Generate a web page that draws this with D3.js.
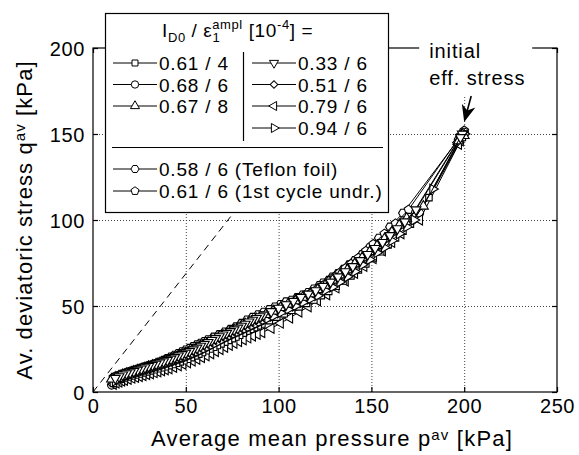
<!DOCTYPE html>
<html><head><meta charset="utf-8">
<script src="https://cdn.jsdelivr.net/npm/d3@7"></script>
<style>
body{margin:0;background:#fff}
svg text{font-family:"Liberation Sans",Arial,Helvetica,sans-serif;fill:#000}
</style>
</head><body>
<svg id="c" width="579" height="455"></svg>
<script>
// ---------- data ----------
const xTicks = [0, 50, 100, 150, 200, 250];
const yTicks = [0, 50, 100, 150, 200];
const xGrid = [50, 100, 150, 200];
const yGrid = [50, 100, 150];
const dashedRef = [[0, 0], [88, 121]];
const initialStress = [200, 150];

// I_D0 / eps_ampl = 0.61 / 4 (square)
const s061_4 = [[200,150],[199,148],[181,113],[171,97.5],[167,93.5],[163,89.5],[159,85.5],[155,81.5],[151,78],[147,74.5],[143,71],[139,67.5],[135,64.5],[131,61.5],[127,58.5],[123,56],[119,53.5],[115,51.5],[111,49.5],[107,47.5],[103,45.5],[99,43.5],[95,41.5],[91,39.5],[89,38.5],[87,37.5],[85,36.5],[83,35.5],[81,34.2],[79,33],[77,32],[75,31],[73,30],[71,29],[69,28],[67,27],[65,26],[63,25],[61,24],[59,23],[57,22],[55,21],[53,20],[51,19],[49,18.2],[47,17.5],[45,16.7],[43,16],[41,15.3],[39,14.7],[37,14.1],[35,13.5],[33,12.9],[31,12.3],[29,11.7],[27,11.1],[25,10.5],[23,9.9],[21,9.3],[19,8.7],[17,8.1],[15,7.4],[13,6.5],[11,5]];
// 0.68 / 6 (circle)
const s068_6 = [[200,151],[198,147],[176,104],[170,98],[166,94],[162,90],[158,86],[154,82],[150,78.5],[146,75],[142,71.5],[138,68],[134,65],[130,62],[126,59],[122,56.5],[118,54],[114,52],[110,50],[106,48],[102,46],[98,44],[94,42],[90,40],[86,38],[82,36],[78,33.5],[74,31.5],[70,29.5],[66,27.5],[62,25.3],[60,24.3],[58,23.3],[56,22.3],[54,21.4],[52,20.4],[50,19.5],[48,18.7],[46,17.9],[44,17.2],[42,16.5],[40,15.8],[38,15.1],[36,14.5],[34,13.9],[32,13.2],[30,12.6],[28,12],[26,11.4],[24,10.7],[22,10.1],[20,9.5],[18,8.8],[16,8.2],[14,7.4],[12,6],[10,4]];
// 0.67 / 8 (triangle up)
const s067_8 = [[200,149],[197,146],[178,108],[169,101],[165,97],[161,93],[157,89],[153,85],[149,81.5],[145,78],[141,74.5],[137,71],[133,68],[129,65],[125,62],[121,59.5],[117,57],[113,55],[109,53],[105,51],[101,49],[97,47],[93,45],[90,43.5],[88,42.5],[86,41.5],[84,40.5],[82,39.5],[80,38.4],[78,37.1],[76,36],[74,35],[72,34],[70,33],[68,32],[66,31],[64,29.9],[62,28.8],[60,27.8],[58,26.7],[56,25.6],[54,24.5],[52,23.5],[50,22.5],[48,21.6],[46,20.7],[44,19.9],[42,19.1],[40,18.3],[38,17.6],[36,16.9],[34,16.2],[32,15.5],[30,14.8],[28,14.1],[26,13.4],[24,12.7],[22,12],[20,11.3],[18,10.7],[16,10],[14,9.3],[12,8.5],[10,7.5]];
// 0.33 / 6 (triangle down)
const s033_6 = [[199,150],[198,148],[174,106],[168,99],[164,95],[160,91],[156,87],[152,83.5],[148,80],[144,76.5],[140,73],[136,70],[132,67],[128,64],[124,61.5],[120,59],[116,57],[112,55],[108,52.8],[104,50.8],[100,48.8],[96,46.8],[92,44.8],[90,43.8],[88,42.8],[86,41.8],[84,40.8],[82,39.5],[80,38.3],[78,37.2],[76,36.2],[74,35.2],[72,34.2],[70,33.2],[68,32.2],[66,31.1],[64,30],[62,28.9],[60,27.8],[58,26.7],[56,25.6],[54,24.6],[52,23.6],[50,22.7],[48,21.8],[46,21],[44,20.1],[42,19.2],[40,18.4],[38,17.7],[36,17],[34,16.3],[32,15.6],[30,14.9],[28,14.2],[26,13.5],[24,12.8],[22,12],[20,11.3],[18,10.7],[16,10],[14,9],[12,8]];
// 0.51 / 6 (diamond)
const s051_6 = [[200,150],[196,145],[169,98],[164,95],[160,91],[156,87],[152,83],[148,79.5],[144,76],[140,72.5],[136,69],[132,66],[128,63],[124,60],[120,57.5],[116,55],[112,53],[108,51],[104,49],[100,47],[96,45],[92,43],[89,41.5],[87,40.5],[85,39.5],[83,38.5],[81,37.5],[79,36.4],[77,35.3],[75,34.2],[73,33.2],[71,32.2],[69,31.2],[67,30.2],[65,29.2],[63,28.1],[61,27],[59,26],[57,24.9],[55,23.9],[53,22.8],[51,21.8],[49,20.9],[47,20],[45,19.2],[43,18.4],[41,17.7],[39,16.9],[37,16.2],[35,15.5],[33,14.9],[31,14.2],[29,13.6],[27,12.9],[25,12.2],[23,11.6],[21,10.9],[19,10.2],[17,9.6],[15,8.9],[13,8.2],[11,7.4]];
// 0.79 / 6 (triangle left)
const s079_6 = [[198,146],[197,144],[176,100],[166,92],[161,87],[156,82],[151,77.5],[146,73],[141,69],[136,64.5],[131,60.5],[126,56.5],[121,53],[116,49.5],[111,46.5],[106,43],[101,40],[96,37],[91,34.5],[88.5,33.5],[86,32.5],[83.5,31.4],[81,30.3],[78.5,29.3],[76,28.3],[73.5,27.1],[71,26],[68.5,24.7],[66,23.5],[63.5,22.2],[61,21],[58.5,20],[56,19],[53.5,18],[51,17],[48.5,16.1],[46,15.2],[43.5,14.3],[41,13.5],[39,12.9],[37,12.3],[35,11.7],[33,11.2],[31,10.6],[29,10.1],[27,9.5],[25,9],[23,8.5],[21,8],[19,7.4],[17,6.8],[15.5,6.3],[14,5.8],[12.5,5.2],[11,4.5]];
// 0.94 / 6 (triangle right)
const s094_6 = [[200,150],[199,149],[183,118],[173,100],[169,96],[165,92],[161,88],[157,84],[153,81],[149,77],[145,74],[141,70],[137,67],[133,64],[129,61],[125,59],[121,56],[117,54],[113,52],[109,50],[105,48],[101,46],[97,44],[93,42],[90,40.5],[88,39.5],[86,38.5],[84,37.5],[82,36.5],[80,35.5],[78,34.5],[76,33.5],[74,32.5],[72,31.5],[70,30.5],[68,29.4],[66,28.2],[64,27.1],[62,26],[60,25],[58,23.9],[56,22.9],[54,22],[52,21.1],[50,20.2],[48,19.4],[46,18.7],[44,17.9],[42,17.2],[40,16.5],[38,15.8],[36,15.1],[34,14.5],[32,13.8],[30,13.1],[28,12.5],[26,11.8],[24,11.1],[22,10.5],[20,9.8],[18,9.1],[16,8.3],[14,7.3],[12,6.3]];
// 0.58 / 6 (Teflon foil) (hexagon)
const s058_6T = [[200,151],[199,149],[197,147],[167,104],[160,96],[154,89.5],[149,84],[145,80],[141,76.5],[138,74],[135,71.5],[132,69],[129,67],[127,65],[124,63.5],[122,62],[119,60],[116,58],[113,56.5],[110,55],[107,53.5],[104,52.5],[101,51],[98,49.5],[95,48],[92,46.5],[89,45],[86,43.5],[83,42],[80,40],[77,38],[74,36.5],[71,35],[68,33.5],[65,32],[62,30.5],[60,29.5],[58,28.5],[56,27.5],[54,26.5],[52,25.5],[50,24.5],[48,23.5],[46,22.5],[44,21.5],[42,20.5],[40,19.5],[38,18.5],[36,17.5],[34,16.7],[32,16],[30,15.3],[28,14.7],[26,14],[24,13.3],[22,12.7],[20,12],[18,11.3],[16,10.5],[14,9.5],[12.5,8.7],[11,6.5]];
// 0.61 / 6 (1st cycle undrained) (pentagon)
const s061_6U = [[200,152],[198,149],[170,106],[163,98],[157,92],[151,86],[147,82],[143,78],[139,74.5],[136,72],[133,69.5],[130,67],[127,64.5],[124,62],[121,60],[118,58],[115,56],[112,54.5],[109,53],[106,51.5],[103,50],[100,48.5],[97,47],[94,45.5],[91,44],[88,42.5],[85,41],[82,39.5],[79,37.5],[76,36],[73,34.5],[70,33],[67,31.5],[64,30],[62,29],[60,28],[58,27],[56,26],[54,25],[52,24],[50,23.3],[48,22.5],[46,21.5],[44,20.5],[42,19.7],[40,19],[38,18],[36,17.2],[34,16.5],[32,15.8],[30,15.2],[28,14.5],[26,13.8],[24,13.2],[22,12.5],[20,11.8],[18,11.2],[16,10.5],[14,9.8],[12.5,9],[11,8.5]];

const legendLeft = [["square","0.61 / 4"],["circle","0.68 / 6"],["triUp","0.67 / 8"]];
const legendRight = [["triDown","0.33 / 6"],["diamond","0.51 / 6"],["triLeft","0.79 / 6"],["triRight","0.94 / 6"]];
const legendBottom = [["hexagon","0.58 / 6 (Teflon foil)"],["pentagon","0.61 / 6 (1st cycle undr.)"]];

// draw order (last on top)
const seriesList = [
  {sym:"hexagon", data:s058_6T},
  {sym:"pentagon", data:s061_6U},
  {sym:"circle", data:s068_6},
  {sym:"triLeft", data:s079_6},
  {sym:"square", data:s061_4},
  {sym:"diamond", data:s051_6},
  {sym:"triRight", data:s094_6},
  {sym:"triUp", data:s067_8},
  {sym:"triDown", data:s033_6}
];

// ---------- drawing ----------
const svg = d3.select("#c");
const x = d3.scaleLinear().domain([0, 250]).range([93, 557]);
const y = d3.scaleLinear().domain([0, 200]).range([392, 48]);

const hexagon = {draw(ctx, size){const r=Math.sqrt(size/2.598);for(let k=0;k<6;k++){const a=k*Math.PI/3;const px=r*Math.cos(a),py=r*Math.sin(a);k?ctx.lineTo(px,py):ctx.moveTo(px,py);}ctx.closePath();}};
const pentagon = {draw(ctx, size){const r=Math.sqrt(size/2.378);for(let k=0;k<5;k++){const a=-Math.PI/2+k*2*Math.PI/5;const px=r*Math.cos(a),py=r*Math.sin(a);k?ctx.lineTo(px,py):ctx.moveTo(px,py);}ctx.closePath();}};
const symDef = {
  square:{type:d3.symbolSquare,size:42,rot:0},
  circle:{type:d3.symbolCircle,size:50,rot:0},
  triUp:{type:d3.symbolTriangle,size:42,rot:0},
  triDown:{type:d3.symbolTriangle,size:42,rot:180},
  triLeft:{type:d3.symbolTriangle,size:42,rot:-90},
  triRight:{type:d3.symbolTriangle,size:42,rot:90},
  diamond:{type:d3.symbolSquare,size:34,rot:45},
  hexagon:{type:hexagon,size:50,rot:0},
  pentagon:{type:pentagon,size:50,rot:0}
};

// grid
const grid = svg.append("g").attr("stroke","#444").attr("stroke-width",1).attr("stroke-dasharray","1,2");
grid.selectAll(".gx").data(xGrid).join("line")
  .attr("x1",d=>x(d)+0.5).attr("x2",d=>x(d)+0.5).attr("y1",y(0)).attr("y2",y(200));
grid.selectAll(".gy").data(yGrid).join("line")
  .attr("y1",d=>Math.round(y(d))+0.5).attr("y2",d=>Math.round(y(d))+0.5).attr("x1",x(0)).attr("x2",x(250));

// dashed reference line
svg.append("path").datum(dashedRef)
  .attr("d", d3.line().x(d=>x(d[0])).y(d=>y(d[1])))
  .attr("fill","none").attr("stroke","#000").attr("stroke-width",1).attr("stroke-dasharray","7,5");

// frame
svg.append("rect").attr("x",x(0)).attr("y",y(200)).attr("width",x(250)-x(0)).attr("height",y(0)-y(200))
  .attr("fill","none").attr("stroke","#000").attr("stroke-width",1.2);

// axes
function styleAxis(g){
  g.select(".domain").remove();
  g.selectAll(".tick line").attr("stroke","#000").attr("stroke-width",1.2);
  g.selectAll(".tick text").attr("font-size",20).attr("letter-spacing","0.6px")
   .attr("font-family","'Liberation Sans',Arial,sans-serif").attr("fill","#000");
}
svg.append("g").attr("transform",`translate(0,${y(0)})`)
  .call(d3.axisBottom(x).tickValues(xTicks).tickSizeInner(-5).tickSizeOuter(0).tickPadding(7)).call(styleAxis);
svg.append("g").attr("transform",`translate(${x(0)},0)`)
  .call(d3.axisLeft(y).tickValues(yTicks).tickSizeInner(-5).tickSizeOuter(0).tickPadding(8)).call(styleAxis)
  .selectAll(".tick text").attr("dy","0.36em");
svg.append("g").attr("transform",`translate(${x(250)},0)`)
  .call(d3.axisRight(y).tickValues(yTicks).tickSizeInner(-5).tickSizeOuter(0).tickFormat("")).call(styleAxis);
svg.append("g").attr("transform",`translate(0,${y(200)})`)
  .call(d3.axisTop(x).tickValues(xTicks).tickSizeInner(-5).tickSizeOuter(0).tickFormat("")).call(styleAxis);

// series
const line = d3.line().x(d=>x(d[0])).y(d=>y(d[1]));
seriesList.forEach(s=>{
  const def = symDef[s.sym];
  const g = svg.append("g");
  g.append("path").datum(s.data).attr("d",line).attr("fill","none").attr("stroke","#000").attr("stroke-width",1);
  g.selectAll("path.m").data(s.data).join("path").attr("class","m")
    .attr("d", d3.symbol().type(def.type).size(def.size))
    .attr("transform", d=>`translate(${x(d[0])},${y(d[1])}) rotate(${def.rot})`)
    .attr("fill","#fff").attr("stroke","#000").attr("stroke-width",1.1);
});

// annotation "initial eff. stress"
const ax = x(initialStress[0]), ay = y(initialStress[1]);
svg.append("rect").attr("x",ax-45).attr("y",y(200)-8).attr("width",113).attr("height",ay-y(200)-30).attr("fill","#fff");
const ann = svg.append("text").attr("font-size",20).attr("letter-spacing","0.9px");
ann.append("tspan").attr("x",ax-35).attr("y",y(200)+10).text("initial");
ann.append("tspan").attr("x",ax-35).attr("y",y(200)+37).text("eff. stress");
// arrow
const tip=[ax, ay-12], start=[ax+7, ay-38];
const dx=tip[0]-start[0], dy=tip[1]-start[1], L=Math.hypot(dx,dy), ux=dx/L, uy=dy/L, px=-uy, py=ux;
svg.append("line").attr("x1",start[0]).attr("y1",start[1]).attr("x2",tip[0]-ux*8).attr("y2",tip[1]-uy*8)
  .attr("stroke","#000").attr("stroke-width",1.6);
const hb=[tip[0]-ux*17, tip[1]-uy*17], hn=[tip[0]-ux*12, tip[1]-uy*12];
svg.append("path").attr("d",`M${tip[0]},${tip[1]}L${hb[0]+px*7},${hb[1]+py*7}L${hn[0]},${hn[1]}L${hb[0]-px*7},${hb[1]-py*7}Z`).attr("fill","#000");

// axis labels
const xl = svg.append("text").attr("x",332).attr("y",446).attr("text-anchor","middle").attr("font-size",22).attr("letter-spacing","1.2px");
xl.append("tspan").text("Average mean pressure p");
xl.append("tspan").attr("font-size",15).attr("dy",-6).text("av");
xl.append("tspan").attr("dy",6).text(" [kPa]");
const yl = svg.append("text").attr("transform","translate(32,220) rotate(-90)").attr("text-anchor","middle").attr("font-size",22).attr("letter-spacing","1.1px");
yl.append("tspan").text("Av. deviatoric stress q");
yl.append("tspan").attr("font-size",15).attr("dy",-7).text("av");
yl.append("tspan").attr("dy",7).text(" [kPa]");

// legend
const lg = svg.append("g");
lg.append("rect").attr("x",105.5).attr("y",13.5).attr("width",283).attr("height",199).attr("fill","#fff").attr("stroke","#000").attr("stroke-width",1.2);
const tt = lg.append("text").attr("x",162).attr("y",37).attr("font-size",19).attr("letter-spacing","0.6px");
tt.append("tspan").text("I");
tt.append("tspan").attr("font-size",13).attr("dy",5).text("D0");
tt.append("tspan").attr("dy",-5).text(" / ε");
tt.append("tspan").attr("font-size",13).attr("dy",5).text("1");
tt.append("tspan").attr("font-size",13).attr("dx",-8).attr("dy",-13).text("ampl");
tt.append("tspan").attr("dy",8).text(" [10");
tt.append("tspan").attr("font-size",13).attr("dy",-8).text("-4");
tt.append("tspan").attr("dy",8).text("] =");

function legendItem(sym, label, lx, cy){
  const def = symDef[sym];
  lg.append("line").attr("x1",lx).attr("x2",lx+44).attr("y1",cy).attr("y2",cy).attr("stroke","#000").attr("stroke-width",1);
  lg.append("path").attr("d",d3.symbol().type(def.type).size(def.size*0.85)())
    .attr("transform",`translate(${lx+22},${cy}) rotate(${def.rot})`).attr("fill","#fff").attr("stroke","#000").attr("stroke-width",1);
  lg.append("text").attr("x",lx+46).attr("y",cy+7).attr("font-size",19).attr("letter-spacing","0.8px").text(label);
}
const rowY = [63, 84.5, 106, 128];
legendLeft.forEach((d,i)=>legendItem(d[0],d[1],113,rowY[i]));
legendRight.forEach((d,i)=>legendItem(d[0],d[1],252,rowY[i]));
lg.append("line").attr("x1",243.5).attr("x2",243.5).attr("y1",52).attr("y2",141).attr("stroke","#000").attr("stroke-width",1.2);
lg.append("line").attr("x1",112).attr("x2",383).attr("y1",147.5).attr("y2",147.5).attr("stroke","#000").attr("stroke-width",1.2);
const rowB = [169, 191];
legendBottom.forEach((d,i)=>legendItem(d[0],d[1],113,rowB[i]));
</script>
</body></html>
